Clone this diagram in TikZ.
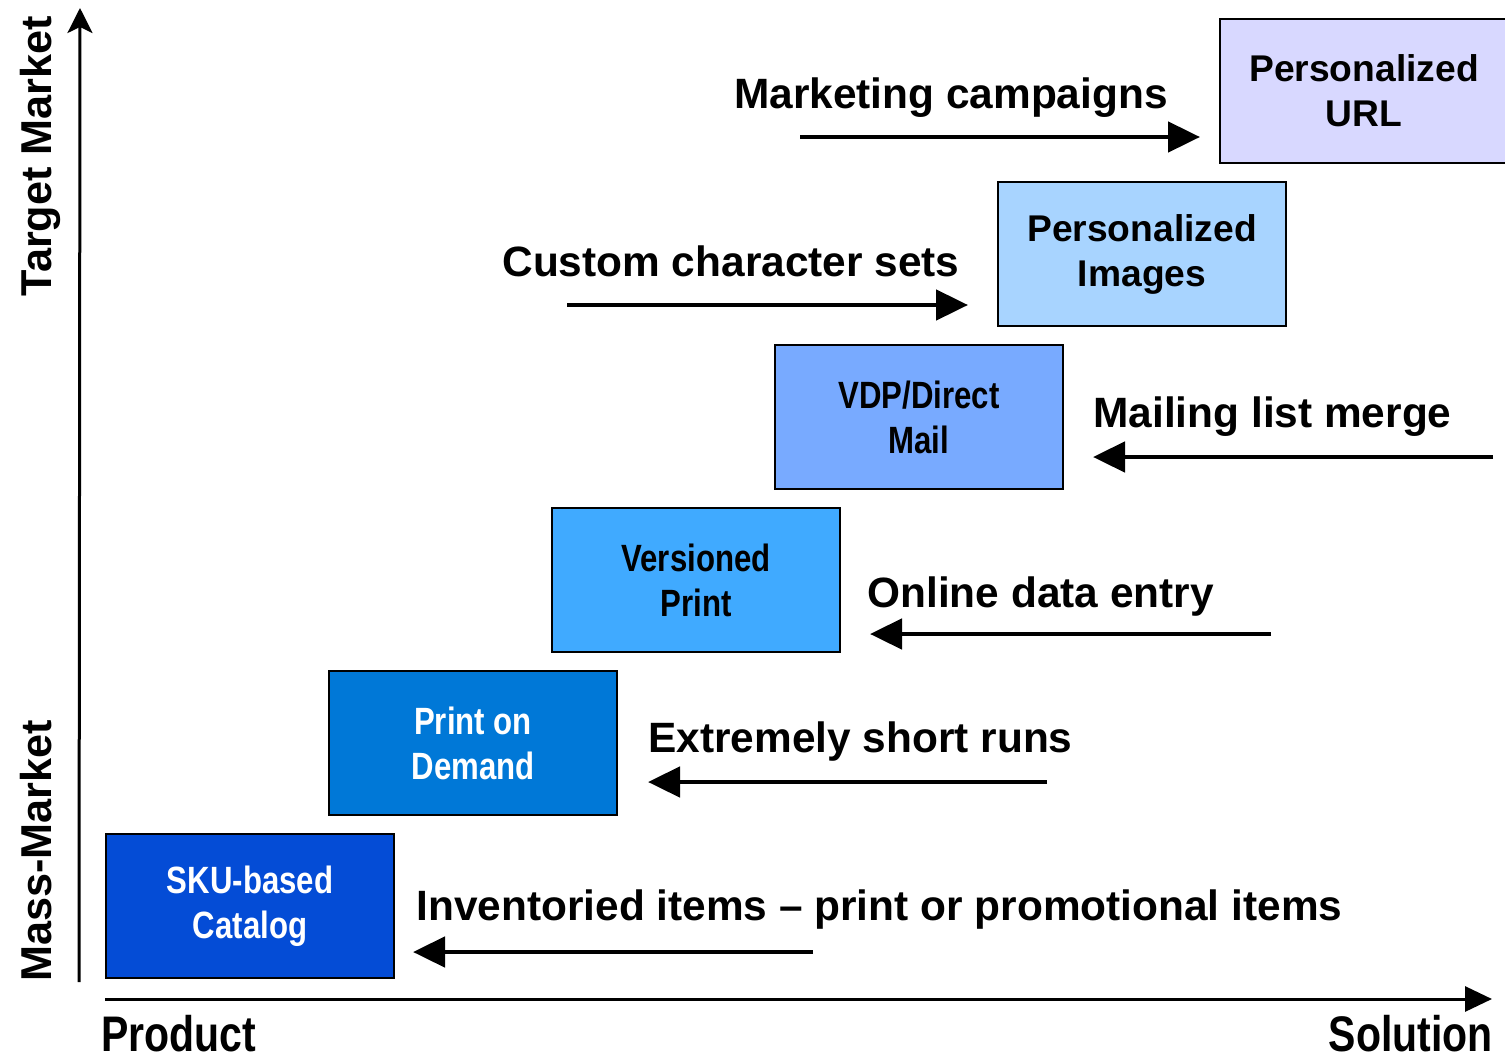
\documentclass[tikz,border=0pt]{standalone}
\usepackage{fontspec}
\setmainfont{Liberation Sans}
\newfontfamily\narrowsans{Liberation Sans}[FakeStretch=0.82]
\usetikzlibrary{arrows.meta}
\definecolor{skublue}{RGB}{4,76,214}
\definecolor{podblue}{RGB}{0,120,215}
\definecolor{verblue}{RGB}{64,170,255}
\definecolor{vdpblue}{RGB}{120,170,255}
\definecolor{imgblue}{RGB}{168,212,255}
\definecolor{urlblue}{RGB}{216,216,255}

\begin{document}
\begin{tikzpicture}[x=0.5pt,y=-0.5pt,
    stage/.style={draw=black,line width=1pt,minimum width=144pt,minimum height=72pt,
      inner sep=0pt,align=center,font=\fontsize{18.6pt}{22.5pt}\selectfont\bfseries},
    narrow/.style={font=\narrowsans\fontsize{19pt}{22.5pt}\selectfont\bfseries},
    note/.style={inner sep=0pt,font=\fontsize{21.2pt}{25pt}\selectfont\bfseries},
    axisname/.style={inner sep=0pt,font=\narrowsans\fontsize{25pt}{30pt}\selectfont\bfseries},
    push/.style={line width=2.4pt,-{Triangle[length=16pt,width=15pt]}},
    axis/.style={line width=1.5pt}]
  \useasboundingbox (0,0) rectangle (1505,1060);

  % the staircase of boxes
  \node[stage,narrow,fill=skublue,text=white] (sku) at (250,906) {SKU-based\\Catalog};
  \node[stage,narrow,fill=podblue,text=white] (pod) at (473,743) {Print on\\Demand};
  \node[stage,narrow,fill=verblue] (ver) at (696,580) {Versioned\\Print};
  \node[stage,narrow,fill=vdpblue] (vdp) at (919,417) {VDP/Direct\\Mail};
  \node[stage,fill=imgblue] (img) at (1142,254) {Personalized\\Images};
  \node[stage,fill=urlblue] (url) at (1364,91) {Personalized\\URL};

  % axes
  \coordinate (yo) at (79,982);
  \coordinate (yt) at (80,8);
  \coordinate (xo) at (105,999);
  \coordinate (xt) at (1492,999);
  \draw[axis,-{Stealth[length=12.5pt,width=12.5pt,inset=3pt]}] (yo) -- (yt);
  \draw[axis,-{Triangle[length=13.5pt,width=12.5pt]}] (xo) -- (xt);
  \node[note,rotate=90,anchor=base,font=\fontsize{21.6pt}{25pt}\selectfont\bfseries] (tm) at (51,156) {Target Market};
  \node[note,rotate=90,anchor=base,font=\fontsize{21.6pt}{25pt}\selectfont\bfseries] (mm) at (51,851) {Mass-Market};
  \node[axisname,anchor=base west] (prod) at (101,1051) {Product};
  \node[axisname,anchor=base east] (sol) at (1493,1051) {Solution};

  % labels and their arrows
  \node[note,anchor=base] (mc) at (951,108) {Marketing campaigns};
  \coordinate (mc-a) at (800,137);
  \coordinate (mc-b) at (1200,137);
  \draw[push] (mc-a) -- (mc-b);

  \node[note,anchor=base] (cc) at (731,276) {Custom character sets};
  \coordinate (cc-a) at (567,305);
  \coordinate (cc-b) at (968,305);
  \draw[push] (cc-a) -- (cc-b);

  \node[note,anchor=base west] (ml) at (1093,427) {Mailing list merge};
  \coordinate (ml-a) at (1493,457);
  \coordinate (ml-b) at (1093,457);
  \draw[push] (ml-a) -- (ml-b);

  \node[note,anchor=base west] (od) at (867,607) {Online data entry};
  \coordinate (od-a) at (1271,634);
  \coordinate (od-b) at (870,634);
  \draw[push] (od-a) -- (od-b);

  \node[note,anchor=base west] (sr) at (648,752) {Extremely short runs};
  \coordinate (sr-a) at (1047,782);
  \coordinate (sr-b) at (648,782);
  \draw[push] (sr-a) -- (sr-b);

  \node[note,anchor=base west] (inv) at (416,920) {Inventoried items -- print or promotional items};
  \coordinate (inv-a) at (813,952);
  \coordinate (inv-b) at (413,952);
  \draw[push] (inv-a) -- (inv-b);
\end{tikzpicture}
\end{document}
